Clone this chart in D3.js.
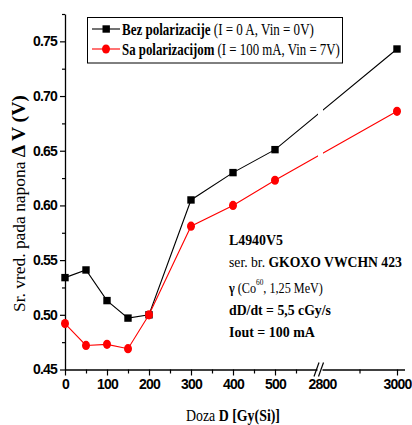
<!DOCTYPE html>
<html>
<head>
<meta charset="utf-8">
<script src="https://cdn.jsdelivr.net/npm/d3@7"></script>
<style>
  body { margin: 0; background: #fff; }
  svg { display: block; }
  .tick text { font-family: "Liberation Sans", Arial, sans-serif; font-weight: bold; font-size: 14px; letter-spacing: -0.8px; fill: #000; }
  .ser { font-family: "Liberation Serif", "Times New Roman", serif; fill: #000; }
</style>
</head>
<body>
<div id="chart"></div>
<script>
// dose values (Gy(Si)) and mean voltage drop dV (V)
var doses = [0, 50, 100, 150, 200, 300, 400, 500, 3000];
var bezPol = [0.534, 0.541, 0.513, 0.497, 0.500, 0.605, 0.630, 0.651, 0.743];
var saPol  = [0.492, 0.472, 0.473, 0.469, 0.500, 0.581, 0.600, 0.623, 0.686];

var xTicksLow = [0, 100, 200, 300, 400, 500];
var xMinorLow = [50, 150, 250, 350, 450, 550];
var xTicksHigh = [2800, 3000];
var xMinorHigh = [2900];
var yTicks = [0.45, 0.50, 0.55, 0.60, 0.65, 0.70, 0.75];
var yMinor = [0.475, 0.525, 0.575, 0.625, 0.675, 0.725, 0.775];

var W = 412, H = 425;
var svg = d3.select("#chart").append("svg").attr("width", W).attr("height", H);

// broken x axis: two linear pieces
var xLow = d3.scaleLinear().domain([0, 600]).range([65, 317]);
var xHigh = d3.scaleLinear().domain([2800, 3020]).range([322, 404.5]);
function x(v) { return v <= 600 ? xLow(v) : xHigh(v); }
var y = d3.scaleLinear().domain([0.45, 0.775]).range([369.5, 14]);
var bottom = y(0.45);

// y axis
svg.append("g").attr("transform", "translate(65,0)")
  .call(d3.axisLeft(y).tickValues(yTicks).tickFormat(d3.format(".2f")).tickSize(5).tickSizeOuter(0).tickPadding(3));
svg.append("g").attr("transform", "translate(65,0)")
  .call(d3.axisLeft(y).tickValues(yMinor).tickFormat("").tickSize(3).tickSizeOuter(0))
  .select(".domain").remove();

// x axis, low part
svg.append("g").attr("transform", "translate(0," + bottom + ")")
  .call(d3.axisBottom(xLow).tickValues(xTicksLow).tickFormat(d3.format("d")).tickSize(6).tickSizeOuter(0).tickPadding(4));
svg.append("g").attr("transform", "translate(0," + bottom + ")")
  .call(d3.axisBottom(xLow).tickValues(xMinorLow).tickFormat("").tickSize(4).tickSizeOuter(0))
  .select(".domain").remove();
// x axis, high part
var hi = svg.append("g").attr("transform", "translate(0," + bottom + ")")
  .call(d3.axisBottom(xHigh).tickValues(xTicksHigh).tickFormat(d3.format("d")).tickSize(6).tickSizeOuter(0).tickPadding(4));
hi.selectAll(".tick").filter(function (d) { return d === 2800; }).select("line").remove();
svg.append("g").attr("transform", "translate(0," + bottom + ")")
  .call(d3.axisBottom(xHigh).tickValues(xMinorHigh).tickFormat("").tickSize(4).tickSizeOuter(0))
  .select(".domain").remove();

svg.selectAll(".domain").attr("stroke", "#000").attr("stroke-width", 1.3);
svg.selectAll(".tick line").attr("stroke", "#000").attr("stroke-width", 1.2);

// break marks
[316.5, 321].forEach(function (bx) {
  svg.append("line").attr("x1", bx - 2.5).attr("y1", bottom + 7).attr("x2", bx + 2.5).attr("y2", bottom - 7)
    .attr("stroke", "#000").attr("stroke-width", 1.2);
});

// gap in the series lines at the break
var defs = svg.append("defs");
var clip = defs.append("clipPath").attr("id", "brk");
clip.append("rect").attr("x", 0).attr("y", 0).attr("width", 318).attr("height", H);
clip.append("rect").attr("x", 323).attr("y", 0).attr("width", W - 323).attr("height", H);

var line = d3.line().x(function (d) { return x(d[0]); }).y(function (d) { return y(d[1]); });

function series(vals, color, marker) {
  var pts = doses.map(function (d, i) { return [d, vals[i]]; });
  svg.append("path").datum(pts).attr("d", line).attr("fill", "none")
    .attr("stroke", color).attr("stroke-width", 1.1).attr("clip-path", "url(#brk)");
  if (marker === "square") {
    svg.selectAll(null).data(pts).enter().append("rect")
      .attr("x", function (d) { return x(d[0]) - 3.7; })
      .attr("y", function (d) { return y(d[1]) - 3.7; })
      .attr("width", 7.4).attr("height", 7.4).attr("fill", color);
  } else {
    svg.selectAll(null).data(pts).enter().append("ellipse")
      .attr("cx", function (d) { return x(d[0]); })
      .attr("cy", function (d) { return y(d[1]); })
      .attr("rx", 4).attr("ry", 4.6).attr("fill", color);
  }
}
series(bezPol, "#000", "square");
series(saPol, "#ff0000", "circle");

// condensed text: one text element squeezed horizontally to a target width
function fitText(parent, tx, ty, len, size, parts, rot) {
  var g = parent.append("g");
  var t = g.append("text").attr("class", "ser").attr("font-size", size);
  parts.forEach(function (p) {
    var s = t.append("tspan").text(p.s);
    if (p.b) s.attr("font-weight", "bold");
    if (p.fs) s.attr("font-size", p.fs);
    if (p.dy) s.attr("dy", p.dy);
  });
  var k = len / t.node().getComputedTextLength();
  g.attr("transform", "translate(" + tx + "," + ty + ")" + (rot ? " rotate(" + rot + ")" : "") + " scale(" + k + ",1)");
  return g;
}

// legend
svg.append("rect").attr("x", 87.5).attr("y", 17.5).attr("width", 255).attr("height", 45.5)
  .attr("fill", "#fff").attr("stroke", "#000").attr("stroke-width", 1);
function legRow(cy, color, marker, bold, rest, len) {
  svg.append("line").attr("x1", 92).attr("x2", 120).attr("y1", cy).attr("y2", cy)
    .attr("stroke", color).attr("stroke-width", 1.1);
  if (marker === "square") {
    svg.append("rect").attr("x", 102.5).attr("y", cy - 3.7).attr("width", 7.4).attr("height", 7.4).attr("fill", color);
  } else {
    svg.append("ellipse").attr("cx", 106).attr("cy", cy).attr("rx", 4).attr("ry", 4.6).attr("fill", color);
  }
  fitText(svg, 122, cy + 6, len, 16, [{s: bold, b: true}, {s: " " + rest}]);
}
legRow(29, "#000", "square", "Bez polarizacije", "(I = 0 A, Vin = 0V)", 192);
legRow(49, "#ff0000", "circle", "Sa polarizacijom", "(I = 100 mA, Vin = 7V)", 218);

// annotation block
fitText(svg, 229, 245, 54, 15, [{s: "L4940V5", b: true}]);
fitText(svg, 229, 267, 173, 15, [{s: "ser. br. "}, {s: "GKOXO VWCHN 423", b: true}]);
fitText(svg, 229, 293, 94, 15, [{s: "γ ", b: true}, {s: "(Co"}, {s: "60", fs: 9, dy: -8}, {s: ", 1,25 MeV)", dy: 8}]);
fitText(svg, 229, 315, 102, 15, [{s: "dD/dt = 5,5 cGy/s", b: true}]);
fitText(svg, 229, 337, 86, 15, [{s: "Iout = 100 mA", b: true}]);

// axis titles
fitText(svg, 186, 421, 94, 16, [{s: "Doza "}, {s: "D [Gy(Si)]", b: true}]);
fitText(svg, 25, 312, 217, 16, [{s: "Sr. vred. pada napona  "}, {s: "Δ V (V)", b: true, fs: 18}], -90);
</script>
</body>
</html>
